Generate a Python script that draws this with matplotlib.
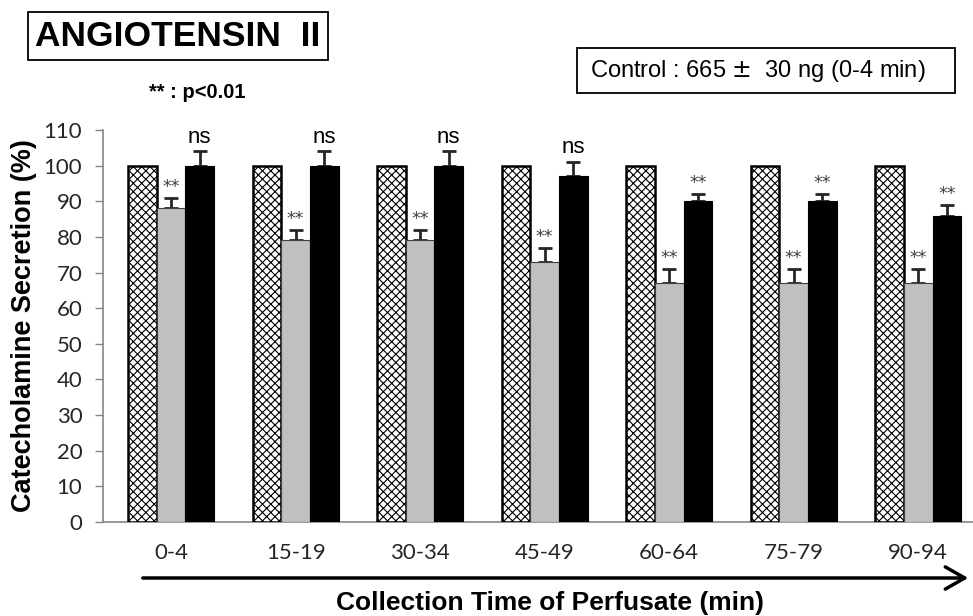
"""
Catecholamine secretion vs collection time (Angiotensin II)
"""

### Import modules
import numpy as np
import matplotlib
matplotlib.use('Agg')
import matplotlib.pyplot as plt
import matplotlib.patches as mpatches

### Data
periods   = ['0-4', '15-19', '30-34', '45-49', '60-64', '75-79', '90-94']
control   = [100, 100, 100, 100, 100, 100, 100]
treat1    = [88, 79, 79, 73, 67, 67, 67]
treat1err = [3, 3, 3, 4, 4, 4, 4]
treat2    = [100, 100, 100, 97, 90, 90, 86]
treat2err = [4, 4, 4, 4, 2, 2, 3]
sig1      = ['**', '**', '**', '**', '**', '**', '**']
sig2      = ['ns', 'ns', 'ns', 'ns', '**', '**', '**']
yticks    = np.arange(0, 111, 10)

### Make plot
plt.rcParams['hatch.linewidth'] = 0.8
fig = plt.figure(figsize=(9.73, 6.16), dpi=100)
ax = fig.add_axes([0.106, 0.1526, 0.894, 0.6364])

x = np.arange(len(periods))
w = 0.23
axcol = '#868686'

ax.bar(x - w, control, w, color='white', edgecolor='black', hatch='xxxx',
       linewidth=1.8, zorder=3)
ax.bar(x, treat1, w, color='#c0c0c0', edgecolor='#404040', linewidth=0.8,
       zorder=3)
ax.bar(x + w, treat2, w, color='black', edgecolor='black', linewidth=0.8,
       zorder=3)

ax.errorbar(x, treat1, yerr=[np.zeros(len(x)), treat1err], fmt='none',
            ecolor='#262626', elinewidth=2, capsize=5, capthick=2, zorder=2)
ax.errorbar(x + w, treat2, yerr=[np.zeros(len(x)), treat2err], fmt='none',
            ecolor='#262626', elinewidth=2, capsize=5, capthick=2, zorder=2)

for i in range(len(x)):
    ax.text(x[i], treat1[i] + treat1err[i] + 0.5, sig1[i], ha='center',
            va='bottom', fontsize=12.5, color='#404040')
    if sig2[i] == 'ns':
        ax.text(x[i] + w, treat2[i] + treat2err[i] + 1.0, sig2[i],
                ha='center', va='bottom', fontsize=16, color='black',
                family='Liberation Sans')
    else:
        ax.text(x[i] + w, treat2[i] + treat2err[i] + 0.5, sig2[i],
                ha='center', va='bottom', fontsize=12.5, color='#404040')

ax.set_xlim(-0.546, 6.44)
ax.set_ylim(0, 110)
ax.set_yticks(yticks)
ax.set_yticklabels([str(v) for v in yticks], family='Lato', fontsize=16,
                   color='#262626')
ax.set_xticks(x)
ax.set_xticklabels(periods, family='Lato', fontsize=16, color='#262626')
ax.tick_params(axis='x', length=0, pad=15)
ax.tick_params(axis='y', length=6, width=1, color=axcol, direction='out',
               pad=9)
ax.spines['top'].set_visible(False)
ax.spines['right'].set_visible(False)
ax.spines['left'].set_color(axcol)
ax.spines['bottom'].set_color(axcol)
ax.spines['left'].set_linewidth(1.2)
ax.spines['bottom'].set_linewidth(1.2)

ax.set_ylabel('Catecholamine Secretion (%)', family='Liberation Sans',
              fontweight='bold', fontsize=19.5, labelpad=5)

### Arrow under axis
fig.patches.append(mpatches.FancyArrowPatch(
    (140 / 973, 1 - 578 / 616), (971 / 973, 1 - 578 / 616),
    transform=fig.transFigure, arrowstyle='->,head_length=7,head_width=4',
    color='black', linewidth=2.5, mutation_scale=2))
fig.text(550 / 973, 1 - 603 / 616, 'Collection Time of Perfusate (min)',
         family='Liberation Sans', fontweight='bold', fontsize=19,
         ha='center', va='center')

### Titles and boxes
fig.text(178 / 973, 1 - 36 / 616, 'ANGIOTENSIN  II', family='Liberation Sans',
         fontweight='bold', fontsize=25.5, ha='center', va='center',
         bbox=dict(boxstyle='square,pad=0.2', fc='white', ec='black', lw=1.3))
fig.text(197 / 973, 1 - 93 / 616, '** : p<0.01', family='Liberation Sans',
         fontweight='bold', fontsize=14.5, ha='center', va='center')

fig.patches.append(mpatches.Rectangle(
    (577 / 973, 1 - 93 / 616), 378 / 973, 45 / 616, transform=fig.transFigure,
    fc='white', ec='black', lw=1.3))
fig.text(758 / 973, 1 - 71 / 616, r'Control : 665 $\pm$  30 ng (0-4 min)',
         family='Liberation Sans', fontsize=17, ha='center', va='center')

plt.savefig('out.png', dpi=100)
